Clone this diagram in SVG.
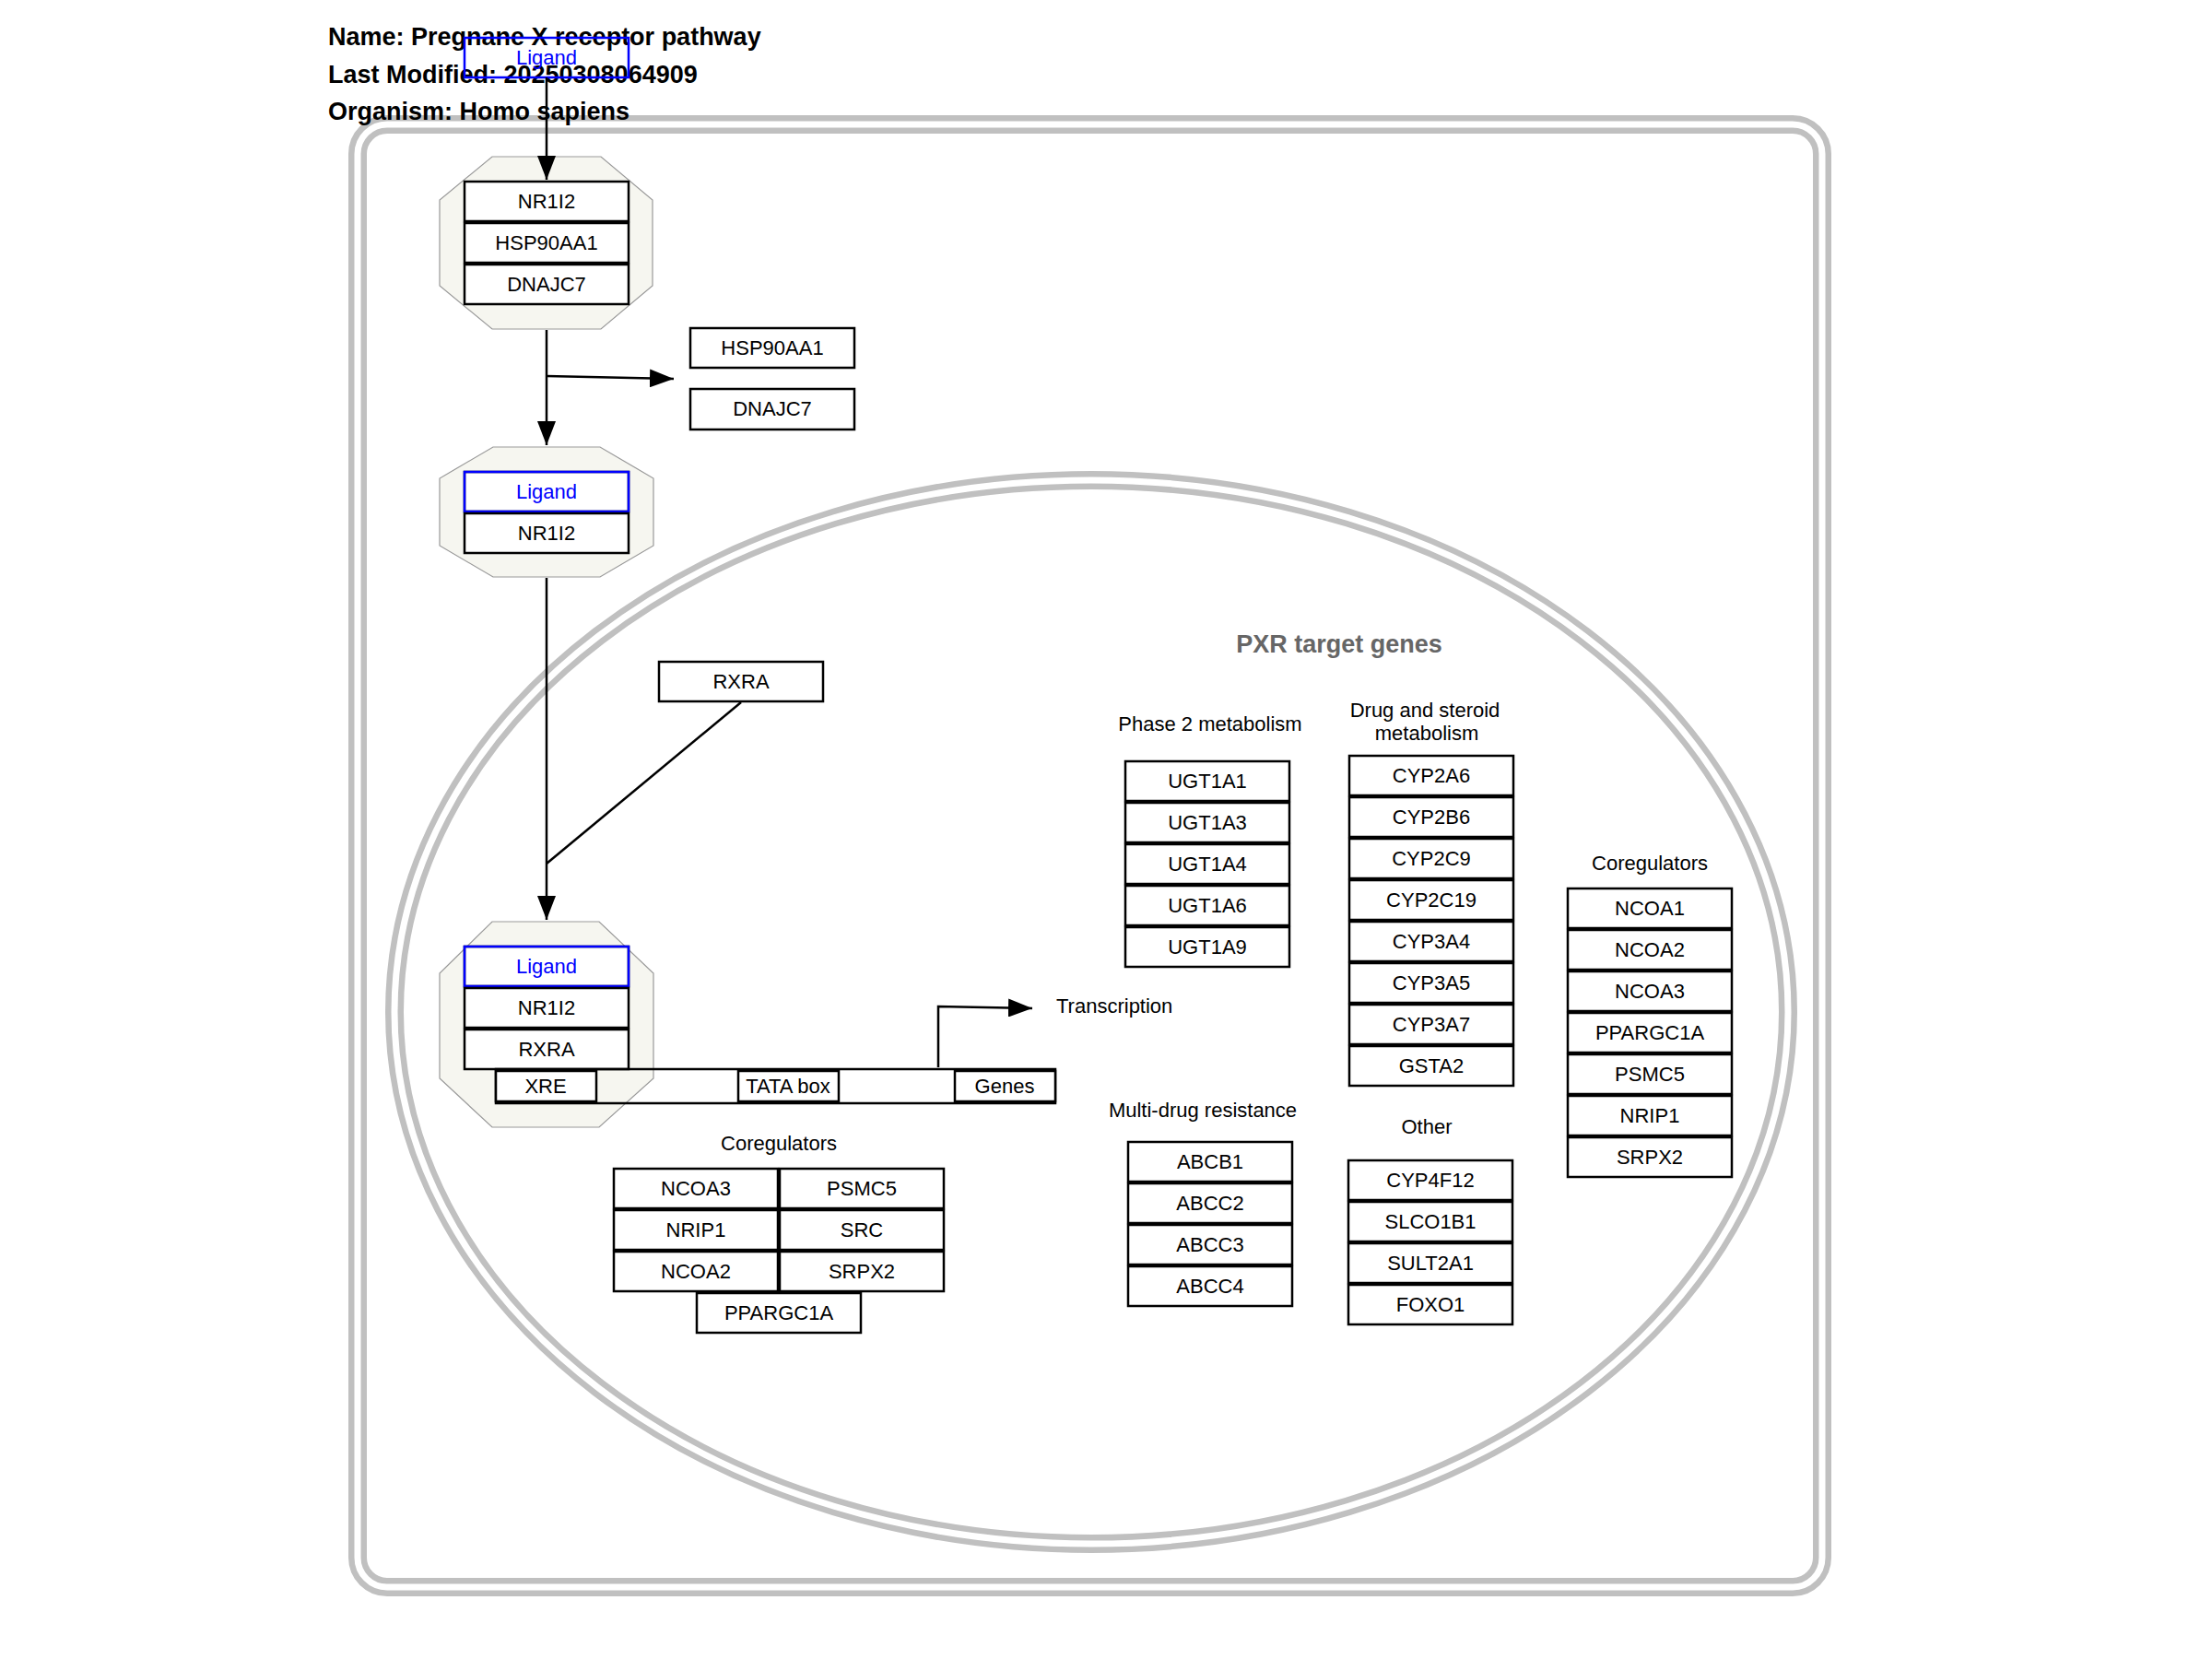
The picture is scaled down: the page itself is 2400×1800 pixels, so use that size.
<svg xmlns="http://www.w3.org/2000/svg" width="2400" height="1800" viewBox="0 0 2400 1800">
<style>
.t{font-family:"Liberation Sans",Arial,sans-serif;font-size:22px;text-anchor:middle;fill:#000}
.tb{fill:#0000ff}
.g{fill:#fff;stroke:#000;stroke-width:2.5}
.lig{fill:none;stroke:#0000ff;stroke-width:2.5}
.cx{fill:#f6f6f0;stroke:#999;stroke-width:1.2}
.c{fill:none;stroke:#000;stroke-width:2.5}
.lab{font-family:"Liberation Sans",Arial,sans-serif;font-size:22px;text-anchor:middle;fill:#000}
.title{font-family:"Liberation Sans",Arial,sans-serif;font-size:27px;font-weight:bold;fill:#000}
.wall{fill:none;stroke:#c0c0c0;stroke-width:20}
.gap{fill:none;stroke:#fff;stroke-width:7}
</style>
<defs>
<marker id="arr" markerUnits="userSpaceOnUse" markerWidth="26" markerHeight="20" refX="26" refY="10" orient="auto">
<path d="M0,0 L26,10 L0,20 z" fill="#000"/>
</marker>
</defs>
<rect x="0" y="0" width="2400" height="1800" fill="#fff"/>
<g id="cell">
<rect class="wall" x="388" y="135" width="1589" height="1587" rx="32"/>
<rect class="gap" x="388" y="135" width="1589" height="1587" rx="32"/>
</g>
<g id="nucleus">
<ellipse class="wall" cx="1184" cy="1098" rx="756" ry="577"/>
<ellipse class="gap" cx="1184" cy="1098" rx="756" ry="577"/>
</g>
<g id="title">
<text class="title" x="356" y="49">Name: Pregnane X receptor pathway</text>
<text class="title" x="356" y="90">Last Modified: 20250308064909</text>
<text class="title" x="356" y="130">Organism: Homo sapiens</text>
</g>
<g id="complex1">
<polygon class="cx" points="534,170 652,170 708,217 708,310 652,357 534,357 477,310 477,217"/>
<rect class="g" x="504" y="197" width="178" height="43"/><text class="t" x="593" y="226">NR1I2</text>
<rect class="g" x="504" y="242" width="178" height="43"/><text class="t" x="593" y="271">HSP90AA1</text>
<rect class="g" x="504" y="287" width="178" height="43"/><text class="t" x="593" y="316">DNAJC7</text>
</g>
<g id="complex2">
<polygon class="cx" points="535,485 651,485 709,519 709,592 651,626 535,626 477,592 477,519"/>
<rect class="g" x="504" y="512" width="178" height="43"/><rect class="lig" x="504" y="512" width="178" height="43"/><text class="t tb" x="593" y="541">Ligand</text>
<rect class="g" x="504" y="557" width="178" height="43"/><text class="t" x="593" y="586">NR1I2</text>
</g>
<g id="complex3">
<polygon class="cx" points="534,1000 650,1000 709,1056 709,1170 650,1223 534,1223 477,1170 477,1056"/>
<rect class="g" x="504" y="1027" width="178" height="43"/><rect class="lig" x="504" y="1027" width="178" height="43"/><text class="t tb" x="593" y="1056">Ligand</text>
<rect class="g" x="504" y="1072" width="178" height="43"/><text class="t" x="593" y="1101">NR1I2</text>
<rect class="g" x="504" y="1117" width="178" height="43"/><text class="t" x="593" y="1146">RXRA</text>
</g>
<g id="dna">
<rect x="538" y="1160" width="607" height="37" fill="none" stroke="#000" stroke-width="2.5"/>
<rect class="g" x="538" y="1162" width="109" height="33"/><text class="t" x="592" y="1186">XRE</text>
<rect class="g" x="801" y="1162" width="109" height="33"/><text class="t" x="855" y="1186">TATA box</text>
<rect class="g" x="1036" y="1162" width="109" height="33"/><text class="t" x="1090" y="1186">Genes</text>
</g>
<g id="ligand-top">
<rect class="lig" x="504" y="41" width="178" height="43"/><text class="t tb" x="593" y="70">Ligand</text>
</g>
<g id="hsp90aa1-free"><rect class="g" x="749" y="356" width="178" height="43"/><text class="t" x="838" y="385">HSP90AA1</text></g>
<g id="dnajc7-free"><rect class="g" x="749" y="422" width="178" height="44"/><text class="t" x="838" y="451">DNAJC7</text></g>
<g id="rxra"><rect class="g" x="715" y="718" width="178" height="43"/><text class="t" x="804" y="747">RXRA</text></g>
<g id="labels">
<text x="1453" y="708" style="font-family:'Liberation Sans',Arial,sans-serif;font-size:27px;font-weight:bold;fill:#666;text-anchor:middle">PXR target genes</text>
<text class="lab" x="1313" y="793">Phase 2 metabolism</text>
<text class="lab" x="1546" y="778">Drug and steroid</text>
<text class="lab" x="1548" y="803">metabolism</text>
<text class="lab" x="1790" y="944">Coregulators</text>
<text class="lab" x="845" y="1248">Coregulators</text>
<text class="lab" x="1305" y="1212">Multi-drug resistance</text>
<text class="lab" x="1548" y="1230">Other</text>
<text x="1146" y="1099" style="font-family:'Liberation Sans',Arial,sans-serif;font-size:22px;fill:#000">Transcription</text>
</g>
<g id="coregulators-left">
<rect class="g" x="666" y="1268" width="178" height="43"/><text class="t" x="755" y="1297">NCOA3</text>
<rect class="g" x="846" y="1268" width="178" height="43"/><text class="t" x="935" y="1297">PSMC5</text>
<rect class="g" x="666" y="1313" width="178" height="43"/><text class="t" x="755" y="1342">NRIP1</text>
<rect class="g" x="846" y="1313" width="178" height="43"/><text class="t" x="935" y="1342">SRC</text>
<rect class="g" x="666" y="1358" width="178" height="43"/><text class="t" x="755" y="1387">NCOA2</text>
<rect class="g" x="846" y="1358" width="178" height="43"/><text class="t" x="935" y="1387">SRPX2</text>
<rect class="g" x="756" y="1403" width="178" height="43"/><text class="t" x="845" y="1432">PPARGC1A</text>
</g>
<g id="phase2">
<rect class="g" x="1221" y="826" width="178" height="43"/><text class="t" x="1310" y="855">UGT1A1</text>
<rect class="g" x="1221" y="871" width="178" height="43"/><text class="t" x="1310" y="900">UGT1A3</text>
<rect class="g" x="1221" y="916" width="178" height="43"/><text class="t" x="1310" y="945">UGT1A4</text>
<rect class="g" x="1221" y="961" width="178" height="43"/><text class="t" x="1310" y="990">UGT1A6</text>
<rect class="g" x="1221" y="1006" width="178" height="43"/><text class="t" x="1310" y="1035">UGT1A9</text>
</g>
<g id="drug-steroid">
<rect class="g" x="1464" y="820" width="178" height="43"/><text class="t" x="1553" y="849">CYP2A6</text>
<rect class="g" x="1464" y="865" width="178" height="43"/><text class="t" x="1553" y="894">CYP2B6</text>
<rect class="g" x="1464" y="910" width="178" height="43"/><text class="t" x="1553" y="939">CYP2C9</text>
<rect class="g" x="1464" y="955" width="178" height="43"/><text class="t" x="1553" y="984">CYP2C19</text>
<rect class="g" x="1464" y="1000" width="178" height="43"/><text class="t" x="1553" y="1029">CYP3A4</text>
<rect class="g" x="1464" y="1045" width="178" height="43"/><text class="t" x="1553" y="1074">CYP3A5</text>
<rect class="g" x="1464" y="1090" width="178" height="43"/><text class="t" x="1553" y="1119">CYP3A7</text>
<rect class="g" x="1464" y="1135" width="178" height="43"/><text class="t" x="1553" y="1164">GSTA2</text>
</g>
<g id="coregulators-right">
<rect class="g" x="1701" y="964" width="178" height="43"/><text class="t" x="1790" y="993">NCOA1</text>
<rect class="g" x="1701" y="1009" width="178" height="43"/><text class="t" x="1790" y="1038">NCOA2</text>
<rect class="g" x="1701" y="1054" width="178" height="43"/><text class="t" x="1790" y="1083">NCOA3</text>
<rect class="g" x="1701" y="1099" width="178" height="43"/><text class="t" x="1790" y="1128">PPARGC1A</text>
<rect class="g" x="1701" y="1144" width="178" height="43"/><text class="t" x="1790" y="1173">PSMC5</text>
<rect class="g" x="1701" y="1189" width="178" height="43"/><text class="t" x="1790" y="1218">NRIP1</text>
<rect class="g" x="1701" y="1234" width="178" height="43"/><text class="t" x="1790" y="1263">SRPX2</text>
</g>
<g id="multidrug">
<rect class="g" x="1224" y="1239" width="178" height="43"/><text class="t" x="1313" y="1268">ABCB1</text>
<rect class="g" x="1224" y="1284" width="178" height="43"/><text class="t" x="1313" y="1313">ABCC2</text>
<rect class="g" x="1224" y="1329" width="178" height="43"/><text class="t" x="1313" y="1358">ABCC3</text>
<rect class="g" x="1224" y="1374" width="178" height="43"/><text class="t" x="1313" y="1403">ABCC4</text>
</g>
<g id="other">
<rect class="g" x="1463" y="1259" width="178" height="43"/><text class="t" x="1552" y="1288">CYP4F12</text>
<rect class="g" x="1463" y="1304" width="178" height="43"/><text class="t" x="1552" y="1333">SLCO1B1</text>
<rect class="g" x="1463" y="1349" width="178" height="43"/><text class="t" x="1552" y="1378">SULT2A1</text>
<rect class="g" x="1463" y="1394" width="178" height="43"/><text class="t" x="1552" y="1423">FOXO1</text>
</g>
<g id="connectors">
<line class="c" x1="593" y1="84" x2="593" y2="195" marker-end="url(#arr)"/>
<line class="c" x1="593" y1="358" x2="593" y2="483" marker-end="url(#arr)"/>
<line class="c" x1="593" y1="408" x2="731" y2="411" marker-end="url(#arr)"/>
<line class="c" x1="593" y1="627" x2="593" y2="998" marker-end="url(#arr)"/>
<line class="c" x1="804" y1="762" x2="593" y2="937"/>
<polyline class="c" points="1018,1158 1018,1092 1120,1094" marker-end="url(#arr)"/>
</g>
</svg>
